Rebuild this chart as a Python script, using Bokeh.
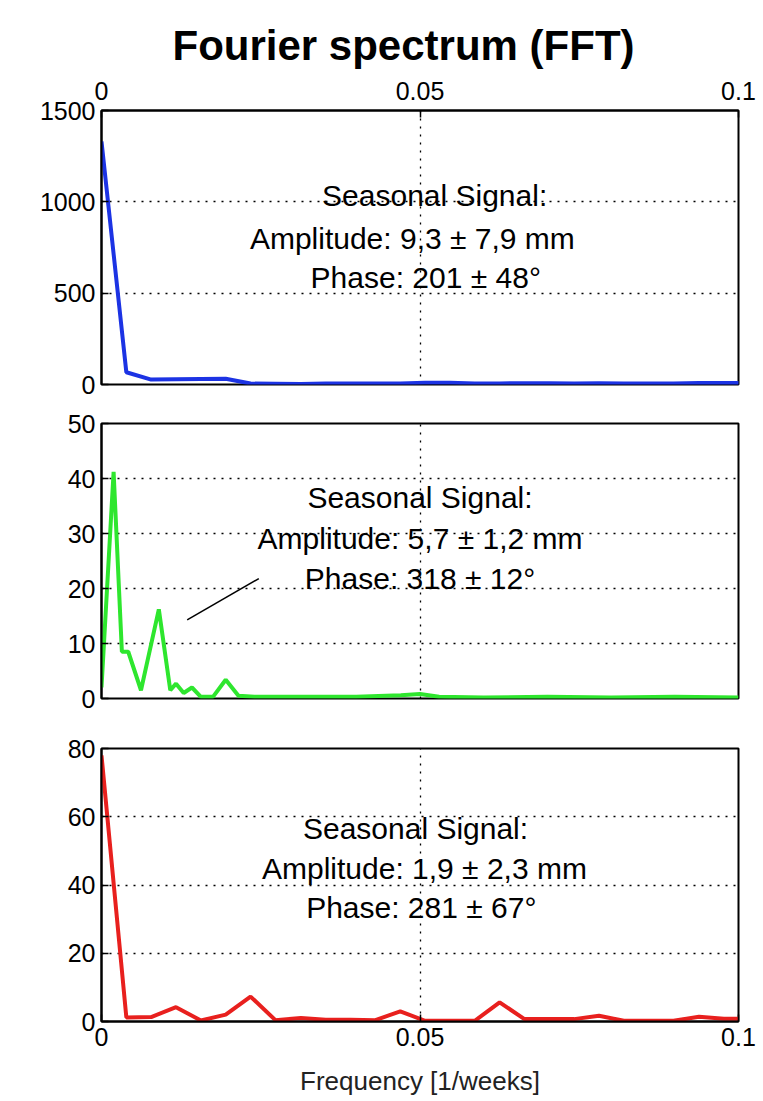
from bokeh.plotting import figure
from bokeh.layouts import column
from bokeh.models import FixedTicker, Range1d
from bokeh.core.properties import value
from bokeh.embed import file_html
from bokeh.resources import INLINE

# ---------------- data ----------------
freq = [0.0, 0.0039, 0.0078, 0.0117, 0.0156, 0.0195, 0.0234, 0.0273, 0.0313,
        0.0352, 0.0391, 0.0430, 0.0469, 0.0508, 0.0547, 0.0586, 0.0625, 0.0664,
        0.0703, 0.0742, 0.0781, 0.0820, 0.0859, 0.0898, 0.0938, 0.0977, 0.1016]
blue_amp = [1331, 67, 27, 29, 30, 31, 5, 4, 3, 5, 5, 6, 6, 10, 10, 6, 6, 7,
            7, 6, 7, 5, 5, 5, 8, 8, 8]
red_amp = [78, 1.2, 1.3, 4.2, 0.3, 2.0, 7.3, 0.4, 1.0, 0.5, 0.5, 0.4, 3.0, 0.2,
           0.2, 0.2, 5.6, 0.7, 0.7, 0.7, 1.7, 0.2, 0.2, 0.2, 1.4, 0.8, 0.8]
green_freq = [0.0, 0.0019, 0.0032, 0.0042, 0.0062, 0.0090, 0.0108, 0.0117, 0.0129,
              0.0142, 0.0156, 0.0175, 0.0195, 0.0215, 0.0240, 0.0300, 0.0400,
              0.0470, 0.0500, 0.0530, 0.0600, 0.0700, 0.0800, 0.0900, 0.1000]
green_amp = [2.0, 41.2, 8.5, 8.5, 1.5, 16.2, 1.5, 2.7, 1.0, 2.0, 0.3, 0.3, 3.4,
             0.5, 0.3, 0.3, 0.3, 0.6, 0.8, 0.3, 0.2, 0.3, 0.2, 0.3, 0.2]

x_ticks = [0, 0.05, 0.1]
x_tick_labels = {0: "0", 0.05: "0.05", 0.1: "0.1"}
y_ticks_top = [0, 500, 1000, 1500]
y_ticks_mid = [0, 10, 20, 30, 40, 50]
y_ticks_bot = [0, 20, 40, 60, 80]

texts_top = ["Seasonal Signal:", "Amplitude: 9,3 \u00b1 7,9 mm", "Phase: 201 \u00b1 48\u00b0"]
texts_mid = ["Seasonal Signal:", "Amplitude: 5,7 \u00b1 1,2 mm", "Phase: 318 \u00b1 12\u00b0"]
texts_bot = ["Seasonal Signal:", "Amplitude: 1,9 \u00b1 2,3 mm", "Phase: 281 \u00b1 67\u00b0"]
text_x_top = [0.0523, 0.0488, 0.0509]
text_y_top = [1035, 799, 586]
text_x_mid = [0.0500, 0.0500, 0.0500]
text_y_mid = [36.5, 29.1, 21.8]
text_x_bot = [0.0493, 0.0507, 0.0502]
text_y_bot = [56.6, 44.9, 33.4]
pointer_x = [0.01345, 0.0247]
pointer_y = [14.3, 21.8]

FONT = "Liberation Sans"


def style_axis(ax):
    ax.major_tick_in = 7
    ax.major_tick_out = 0
    ax.minor_tick_line_color = None
    ax.axis_line_color = "black"
    ax.axis_line_width = 2
    ax.major_tick_line_width = 1.5
    ax.major_tick_line_color = "black"
    ax.major_label_text_font = FONT
    ax.major_label_text_font_size = "25px"
    ax.major_label_text_color = "black"
    ax.major_label_standoff = 6


def make_panel(ymax, yticks, frame_h, xloc, btop, bbot):
    p = figure(frame_width=637, frame_height=frame_h,
               x_range=Range1d(0, 0.1), y_range=Range1d(0, ymax),
               output_backend="svg", toolbar_location=None,
               x_axis_location=xloc,
               min_border_left=101, min_border_right=20,
               min_border_top=btop, min_border_bottom=bbot)
    p.outline_line_color = "black"
    p.outline_line_width = 2
    p.outline_line_alpha = 1
    p.background_fill_color = "white"
    p.border_fill_color = "white"
    p.yaxis.ticker = FixedTicker(ticks=yticks)
    for ax in p.yaxis:
        style_axis(ax)
    if xloc is not None:
        p.xaxis.ticker = FixedTicker(ticks=x_ticks)
        p.xaxis.major_label_overrides = x_tick_labels
        for ax in p.xaxis:
            style_axis(ax)
    p.xgrid.ticker = FixedTicker(ticks=x_ticks)
    p.ygrid.ticker = FixedTicker(ticks=yticks)
    for g in (p.xgrid, p.ygrid):
        g.grid_line_color = "black"
        g.grid_line_dash = "2 6"
        g.grid_line_width = 1.3
        g.grid_line_alpha = 1
    return p


def add_texts(p, xs, ys, ts):
    p.text(x=xs, y=ys, text=ts, text_font=value(FONT),
           text_font_size=value("30px"), text_align="center",
           text_baseline="middle", text_color="black")


p1 = make_panel(1500, y_ticks_top, 274, "above", 110, 19)
p1.xaxis.major_label_standoff = 11
p1.title.text = "Fourier spectrum (FFT)"
p1.title.align = "left"
p1.title.offset = 71
p1.title.text_font = FONT
p1.title.text_font_size = "42px"
p1.title.text_font_style = "bold"
p1.title.text_color = "black"
p1.title.standoff = 20
p1.line(freq, blue_amp, line_color="#1c33e4", line_width=4)
add_texts(p1, text_x_top, text_y_top, texts_top)

p2 = make_panel(50, y_ticks_mid, 275, None, 20, 25)
p2.line(green_freq, green_amp, line_color="#2ee62e", line_width=4)
p2.line(pointer_x, pointer_y, line_color="black", line_width=1.5)
add_texts(p2, text_x_mid, text_y_mid, texts_mid)

p3 = make_panel(80, y_ticks_bot, 273, "below", 25, 76)
p3.line(freq, red_amp, line_color="#e8201e", line_width=4)
add_texts(p3, text_x_bot, text_y_bot, texts_bot)
p3.xaxis.axis_label = "Frequency [1/weeks]"
p3.xaxis.axis_label_text_font = FONT
p3.xaxis.axis_label_text_font_size = "26px"
p3.xaxis.axis_label_text_font_style = "normal"
p3.xaxis.axis_label_text_color = "#222222"
p3.xaxis.axis_label_standoff = 17

layout = column(p1, p2, p3, spacing=0)

open("out.html", "w").write(file_html(layout, INLINE))
